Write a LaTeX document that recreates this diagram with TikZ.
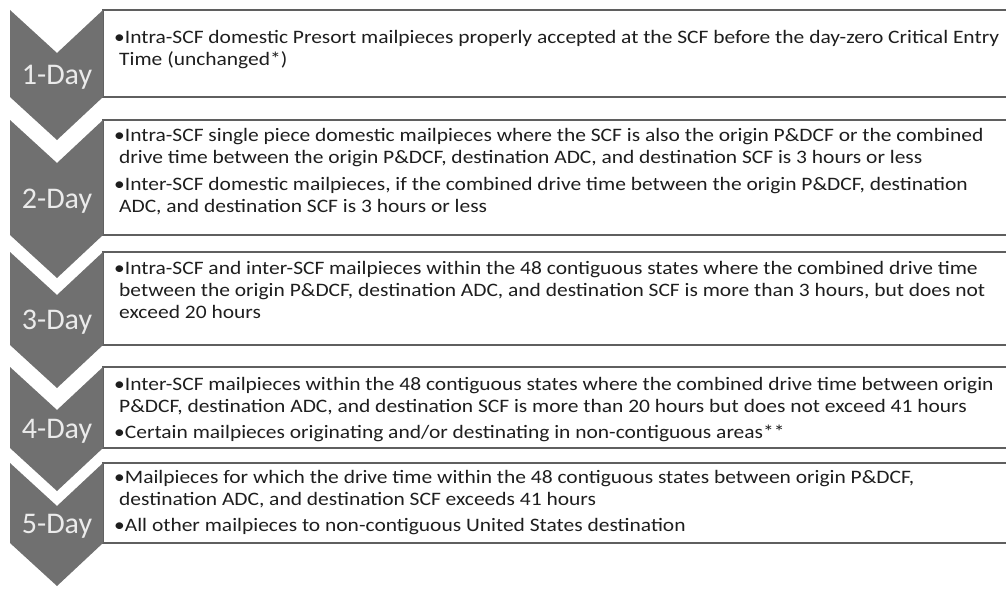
\documentclass[tikz,border=0pt]{standalone}
\usepackage{fontspec}
\setmainfont{Carlito}
\newfontfamily\bodyfont{Carlito}[FakeStretch=1.13]
\definecolor{chevgray}{RGB}{112,112,112}
\definecolor{boxgray}{RGB}{95,95,95}
\definecolor{labelgray}{RGB}{235,235,235}
\definecolor{textgray}{RGB}{30,30,30}
\newcommand{\contline}{\hspace*{5pt}}

\begin{document}
\begin{tikzpicture}[x=1pt,y=-1pt,
    chevron/.style={fill=chevgray,draw=none},
    daybox/.style={draw=boxgray,line width=1.5pt,fill=white},
    daylabel/.style={text=labelgray,inner sep=0pt,font=\fontsize{30}{32}\selectfont},
    itemtext/.style={anchor=north west,inner sep=0pt,align=left,text=textgray,
        font=\bodyfont\fontsize{19}{22}\selectfont}]
    \useasboundingbox (0,0) rectangle (1006,594);
    % boxes and day chevrons
    \foreach \t/\b/\n in {10/97/1,120/235/2,252/345/3,367/448/4,463/543/5}{
        \draw[daybox] (103,\t) rectangle (1012,\b);
        \fill[chevron] (10,\t) -- (57,\t+43) -- (103,\t) -- (103,\b) -- (57,\b+43) -- (10,\b) -- cycle;
        \node[daylabel] (d\n) at (57,{(\t+\b+47)/2}) {\n-Day};
    }
    % texts
    \node[itemtext] (t1) at (114,30) {•Intra-SCF domestic Presort mailpieces properly accepted at the SCF before the day-zero Critical Entry\\
        \contline Time (unchanged*)};
    \node[itemtext] (t2) at (114,128) {•Intra-SCF single piece domestic mailpieces where the SCF is also the origin P\&DCF or the combined\\
        \contline drive time between the origin P\&DCF, destination ADC, and destination SCF is 3 hours or less\\[5pt]
        •Inter-SCF domestic mailpieces, if the combined drive time between the origin P\&DCF, destination\\
        \contline ADC, and destination SCF is 3 hours or less};
    \node[itemtext] (t3) at (114,261) {•Intra-SCF and inter-SCF mailpieces within the 48 contiguous states where the combined drive time\\
        \contline between the origin P\&DCF, destination ADC, and destination SCF is more than 3 hours, but does not\\
        \contline exceed 20 hours};
    \node[itemtext] (t4) at (114,377) {•Inter-SCF mailpieces within the 48 contiguous states where the combined drive time between origin\\
        \contline P\&DCF, destination ADC, and destination SCF is more than 20 hours but does not exceed 41 hours\\[4pt]
        •Certain mailpieces originating and/or destinating in non-contiguous areas**};
    \node[itemtext] (t5) at (114,470) {•Mailpieces for which the drive time within the 48 contiguous states between origin P\&DCF,\\
        \contline destination ADC, and destination SCF exceeds 41 hours\\[4pt]
        •All other mailpieces to non-contiguous United States destination};
\end{tikzpicture}
\end{document}
